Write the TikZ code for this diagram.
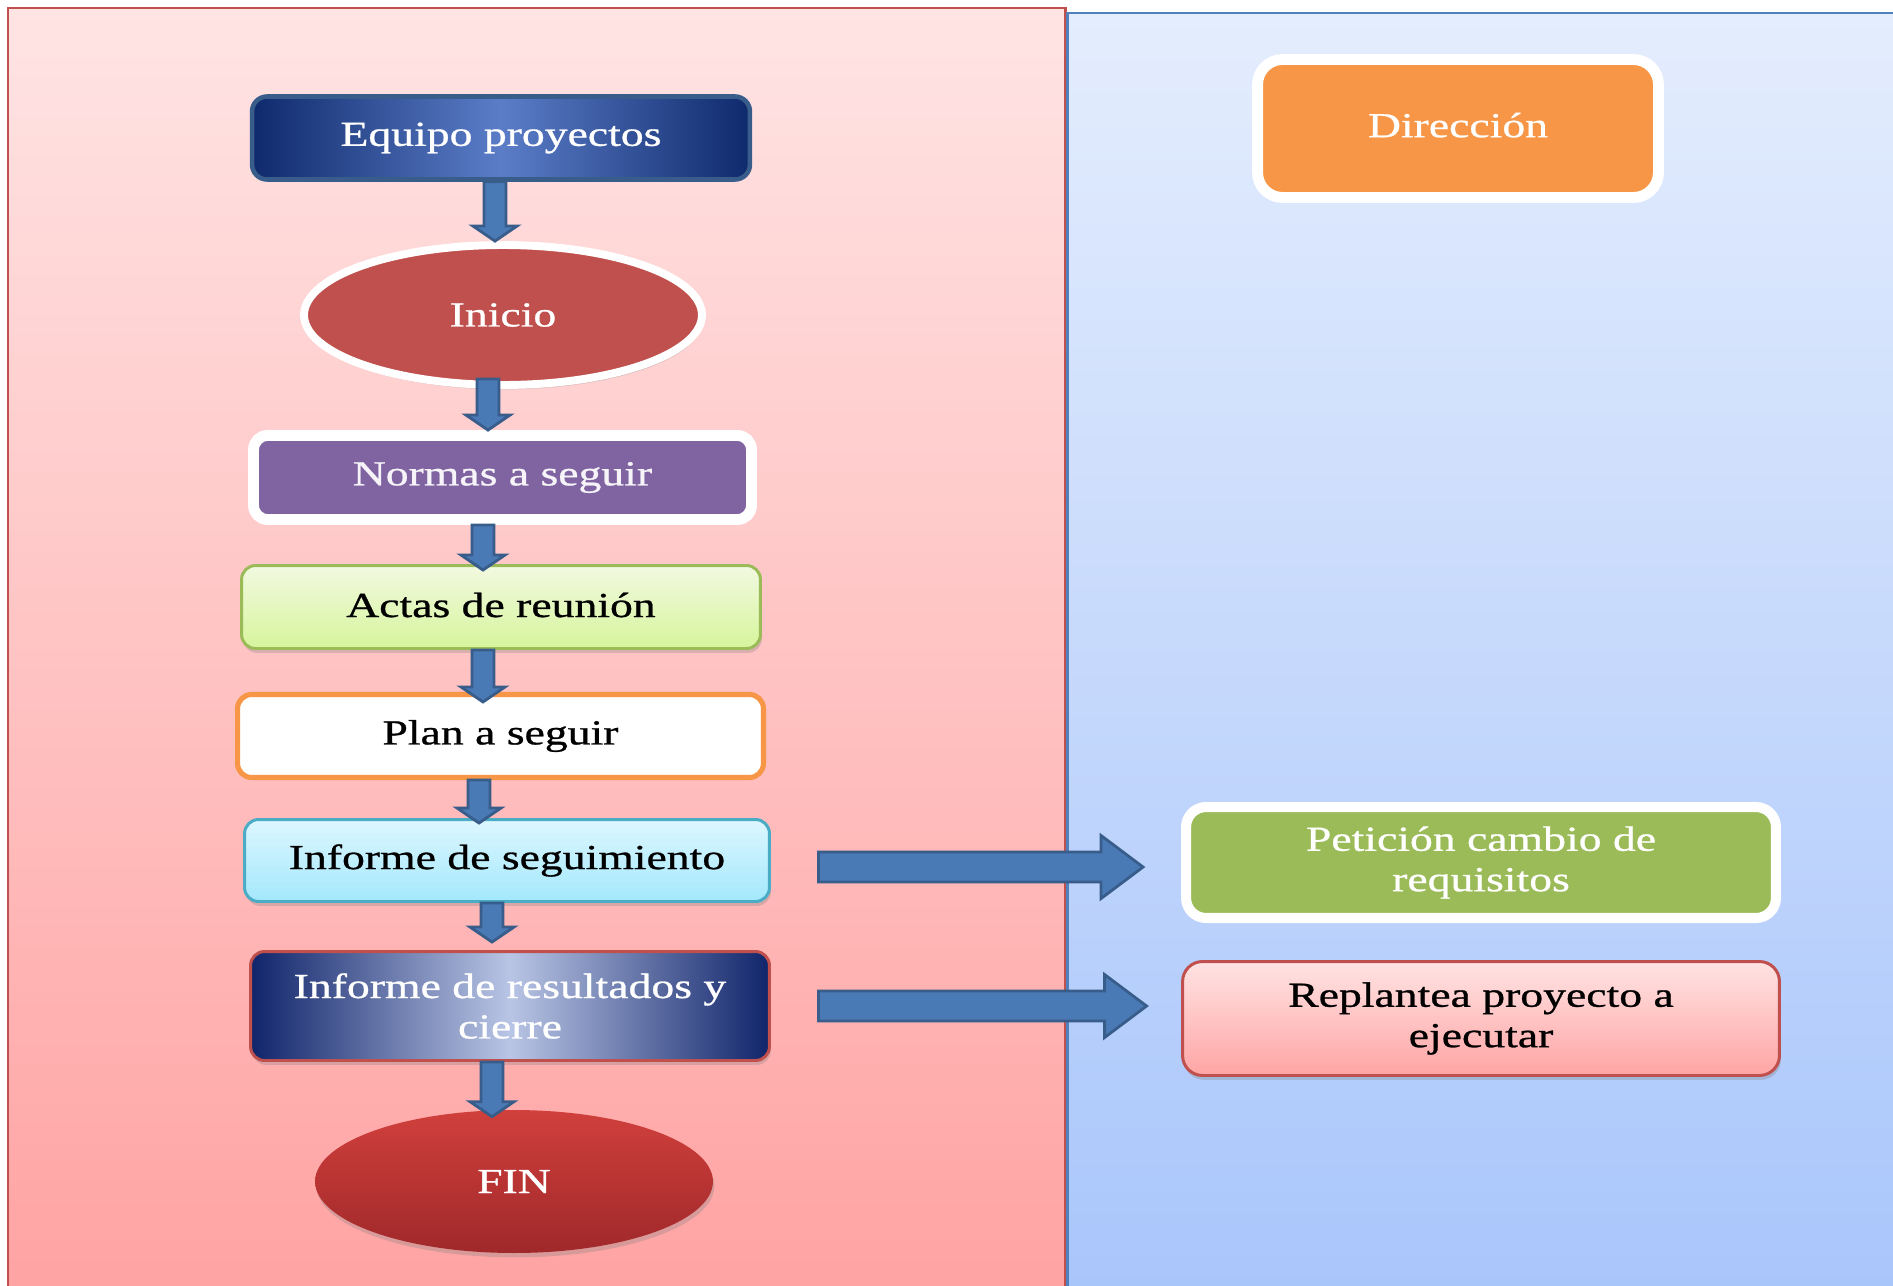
\documentclass[tikz,border=0pt]{standalone}
\usepackage{fontspec}
\setmainfont{Liberation Serif}[FakeStretch=1.3,FakeBold=0.8]
\usetikzlibrary{shapes.geometric,shadows,calc}
\definecolor{panelred}{HTML}{C0504D}
\definecolor{pinktop}{HTML}{FFE4E4}
\definecolor{pinkbot}{HTML}{FFA2A2}
\definecolor{panelblue}{HTML}{4F81BD}
\definecolor{bluetop}{HTML}{E4EDFD}
\definecolor{bluebot}{HTML}{A8C5FB}
\definecolor{navy}{HTML}{0F2A6C}
\definecolor{navymid}{HTML}{5B7DC8}
\definecolor{navyline}{HTML}{385D8A}
\definecolor{inired}{HTML}{C0504D}
\definecolor{purp}{HTML}{8064A2}
\definecolor{greentop}{HTML}{F2F9E0}
\definecolor{greenbot}{HTML}{D6F59C}
\definecolor{greenline}{HTML}{9BBB59}
\definecolor{orangeline}{HTML}{F79646}
\definecolor{cyantop}{HTML}{DDF7FF}
\definecolor{cyanbot}{HTML}{A3E8FC}
\definecolor{cyanline}{HTML}{4BACC6}
\definecolor{lavmid}{HTML}{B9C5E5}
\definecolor{resnavy}{HTML}{10246A}
\definecolor{fintop}{HTML}{D0403C}
\definecolor{finbot}{HTML}{A0282A}
\definecolor{repline}{HTML}{C0504D}
\definecolor{reptop}{HTML}{FFE3E3}
\definecolor{repbot}{HTML}{FFA5A5}
\definecolor{arrfill}{HTML}{4A7AB6}
\definecolor{arrline}{HTML}{385D8A}
\newcommand\varrowblk[2]{%
 \draw[blkarrow] let \p1=#1, \p2=#2 in
  (\x1-0.22cm,\y1) -- (\x1+0.22cm,\y1) -- (\x1+0.22cm,\y2+0.3cm) -- (\x1+0.44cm,\y2+0.3cm)
  -- (\x1,\y2) -- (\x1-0.44cm,\y2+0.3cm) -- (\x1-0.22cm,\y2+0.3cm) -- cycle;}
\newcommand\harrowblk[2]{%
 \draw[blkarrow] let \p1=#1, \p2=#2 in
  (\x1,\y1+0.3cm) -- (\x2-0.84cm,\y1+0.3cm) -- (\x2-0.84cm,\y1+0.63cm) -- (\x2,\y1)
  -- (\x2-0.84cm,\y1-0.63cm) -- (\x2-0.84cm,\y1-0.3cm) -- (\x1,\y1-0.3cm) -- cycle;}
\tikzset{
 every node/.style={font=\fontsize{20}{23}\selectfont, inner sep=0pt, align=center},
 shad/.style={drop shadow={opacity=0.3, shadow xshift=0.8pt, shadow yshift=-2.5pt}},
 blkarrow/.style={draw=arrline, fill=arrfill, line width=1.6pt, line join=miter},
 eqbox/.style={rectangle, rounded corners=0.3cm, minimum width=9.96cm, minimum height=1.66cm,
   left color=navy, right color=navy, middle color=navymid, draw=navyline, line width=2.6pt, text=white},
 inibox/.style={ellipse, minimum width=7.96cm, minimum height=2.8cm, fill=inired, draw=white,
   line width=4.5pt, text=white, shad},
 norbox/.style={rectangle, rounded corners=0.28cm, minimum width=9.96cm, minimum height=1.68cm,
   fill=purp, draw=white, line width=6.2pt, text=white!93!purp, shad},
 actbox/.style={rectangle, rounded corners=0.28cm, minimum width=10.38cm, minimum height=1.66cm,
   top color=greentop, bottom color=greenbot, draw=greenline, line width=1.7pt, text=black, shad},
 planbox/.style={rectangle, rounded corners=0.28cm, minimum width=10.52cm, minimum height=1.66cm,
   fill=white, draw=orangeline, line width=2.9pt, text=black},
 segbox/.style={rectangle, rounded corners=0.28cm, minimum width=10.5cm, minimum height=1.64cm,
   top color=cyantop, bottom color=cyanbot, draw=cyanline, line width=1.7pt, text=black, shad},
 resbox/.style={rectangle, rounded corners=0.28cm, minimum width=10.38cm, minimum height=2.18cm,
   left color=resnavy, right color=resnavy, middle color=lavmid, draw=repline, line width=1.7pt,
   text=white, shad},
 finbox/.style={ellipse, minimum width=7.96cm, minimum height=2.86cm,
   top color=fintop, bottom color=finbot, text=white, shad},
 dirbox/.style={rectangle, rounded corners=0.5cm, minimum width=8.02cm, minimum height=2.76cm,
   fill=orangeline, draw=white, line width=6.2pt, text=white, shad},
 petbox/.style={rectangle, rounded corners=0.4cm, minimum width=11.8cm, minimum height=2.22cm,
   fill=greenline, draw=white, line width=5.7pt, text=white, shad},
 repbox/.style={rectangle, rounded corners=0.4cm, minimum width=11.94cm, minimum height=2.28cm,
   top color=reptop, bottom color=repbot, draw=repline, line width=1.7pt, text=black, shad},
}
\begin{document}
\begin{tikzpicture}[x=0.02cm, y=-0.02cm]
\clip (0,0) rectangle (1893,1285);
\fill[white] (0,0) rectangle (1893,1285);
% panels
\draw[draw=panelred, line width=1.7pt, top color=pinktop, bottom color=pinkbot] (8,8) rectangle (1065,1310);
\draw[draw=panelblue, line width=1.7pt, top color=bluetop, bottom color=bluebot] (1067,13) rectangle (1910,1310);
% left column
\node[eqbox]   (eq)   at (501,138)    {\raisebox{-4pt}{Equipo proyectos}};
\node[inibox]  (ini)  at (503,315)    {Inicio};
\node[norbox]  (nor)  at (502.5,477.5) {Normas a seguir};
\node[actbox]  (act)  at (501,607)    {\raisebox{2.5pt}{Actas de reunión}};
\node[planbox] (plan) at (500.5,736)  {\raisebox{-3pt}{Plan a seguir}};
\node[segbox]  (seg)  at (507,860.5)  {Informe de seguimiento};
\node[resbox]  (res)  at (510,1006)   {Informe de resultados y\\cierre};
\node[finbox]  (fin)  at (514,1181.5) {\raisebox{-2pt}{FIN}};
% right column
\node[dirbox]  (dir)  at (1458,128.5) {\raisebox{4pt}{Dirección}};
\node[petbox]  (pet)  at (1481,862.5) {Petición cambio de\\requisitos};
\node[repbox]  (rep)  at (1481,1018.5) {Replantea proyecto a\\ejecutar};
% vertical arrows
\varrowblk{([xshift=-0.12cm]eq.south)}{(ini.north)}
\varrowblk{([xshift=-0.3cm,yshift=0.2cm]ini.south)}{(nor.north)}
\varrowblk{([xshift=-0.39cm]nor.south)}{([yshift=-0.12cm]act.north)}
\varrowblk{([xshift=-0.36cm]act.south)}{([yshift=-0.2cm]plan.north)}
\varrowblk{([xshift=-0.43cm]plan.south)}{([yshift=-0.1cm]seg.north)}
\varrowblk{([xshift=-0.3cm]seg.south)}{([yshift=0.16cm]res.north)}
\varrowblk{([xshift=-0.36cm]res.south)}{([yshift=-0.14cm]fin.north)}
% horizontal arrows
\harrowblk{([xshift=0.95cm,yshift=-0.13cm]seg.east)}{([xshift=-0.76cm]pet.west)}
\harrowblk{([xshift=0.95cm]res.east)}{([xshift=-0.69cm]rep.west)}
\end{tikzpicture}
\end{document}
